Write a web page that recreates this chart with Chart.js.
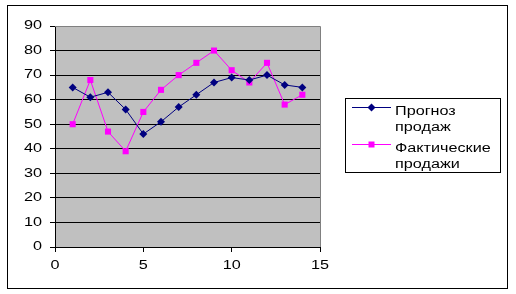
<!DOCTYPE html>
<html>
<head>
<meta charset="utf-8">
<script src="https://cdn.jsdelivr.net/npm/chart.js@4"></script>
<style>
  html, body { margin: 0; padding: 0; background: #fff; }
  canvas { display: block; }
</style>
</head>
<body>
<canvas id="chart" width="516" height="294"></canvas>
<script>
// data
const periods = [1, 2, 3, 4, 5, 6, 7, 8, 9, 10, 11, 12, 13, 14]
const forecast = [65, 61, 63, 56, 46, 51, 57, 62, 67, 69, 68, 70, 66, 65]
const actual = [50, 68, 47, 39, 55, 64, 70, 75, 80, 72, 67, 75, 58, 62]
const forecastLabel = ['Прогноз', 'продаж']
const actualLabel = ['Фактические', 'продажи']
const xTicks = [0, 5, 10, 15]
const yTicks = [0, 10, 20, 30, 40, 50, 60, 70, 80, 90]

// the original text is drawn wide, stretch every fillText a bit
const STRETCH = 1.35
const canvas = document.getElementById('chart')
const ctx = canvas.getContext('2d')
const rawFillText = ctx.fillText.bind(ctx)
ctx.fillText = function(text, x, y, maxWidth) {
  this.save()
  this.translate(x, y)
  this.scale(STRETCH, 1)
  rawFillText(text, 0, 0)
  this.restore()
}

const toPoints = (values) => values.map((y, i) => ({x: periods[i], y}))

const frame = {
  id: 'frame',
  beforeDraw(chart) {
    const c = chart.ctx
    const a = chart.chartArea
    c.save()
    c.fillStyle = '#fff'
    c.fillRect(0, 0, chart.width, chart.height)
    c.fillStyle = '#c0c0c0'
    c.fillRect(a.left, a.top, a.right - a.left, a.bottom - a.top)
    c.strokeStyle = '#000'
    c.lineWidth = 1
    c.strokeRect(7.5, 5.5, 500, 283)
    c.restore()
  },
  beforeDatasetsDraw(chart) {
    const c = chart.ctx
    const a = chart.chartArea
    c.save()
    c.strokeStyle = '#808080'
    c.lineWidth = 1
    c.beginPath()
    c.moveTo(a.left, Math.round(a.top) + 0.5)
    c.lineTo(Math.round(a.right) + 0.5, Math.round(a.top) + 0.5)
    c.lineTo(Math.round(a.right) + 0.5, a.bottom)
    c.stroke()
    c.restore()
  }
}

const sideLegend = {
  id: 'sideLegend',
  afterDraw(chart) {
    const c = chart.ctx
    c.save()
    c.strokeStyle = '#000'
    c.lineWidth = 1
    c.strokeRect(345.5, 98.5, 155, 74)
    c.font = '12px "Liberation Sans", Arial, sans-serif'
    c.fillStyle = '#000'
    c.textAlign = 'left'
    c.textBaseline = 'alphabetic'
    chart.data.datasets.forEach((ds, i) => {
      const base = 115 + i * 36.7
      const sy = Math.round(base - 8) + 0.5
      c.strokeStyle = ds.borderColor
      c.beginPath()
      c.moveTo(352, sy)
      c.lineTo(391, sy)
      c.stroke()
      c.fillStyle = ds.backgroundColor
      c.beginPath()
      if (ds.pointStyle === 'rectRot') {
        c.moveTo(371.5, sy - 4)
        c.lineTo(375.5, sy)
        c.lineTo(371.5, sy + 4)
        c.lineTo(367.5, sy)
        c.closePath()
      } else {
        c.rect(368.5, sy - 3, 6, 6)
      }
      c.fill()
      c.fillStyle = '#000'
      ds.label.forEach((line, j) => c.fillText(line, 395, base + j * 16))
    })
    c.restore()
  }
}

Chart.defaults.font.family = '"Liberation Sans", Arial, sans-serif'
Chart.defaults.font.size = 12
Chart.defaults.color = '#000'

new Chart(ctx, {
  type: 'scatter',
  data: {
    datasets: [
      {
        label: forecastLabel,
        data: toPoints(forecast),
        showLine: true,
        borderColor: '#000080',
        backgroundColor: '#000080',
        borderWidth: 1,
        pointStyle: 'rectRot',
        pointRadius: 4,
        pointHoverRadius: 4,
        pointBorderWidth: 0
      },
      {
        label: actualLabel,
        data: toPoints(actual),
        showLine: true,
        borderColor: '#ff00ff',
        backgroundColor: '#ff00ff',
        borderWidth: 1,
        pointStyle: 'rect',
        pointRadius: 4.3,
        pointHoverRadius: 4.3,
        pointBorderWidth: 0
      }
    ]
  },
  options: {
    responsive: false,
    animation: false,
    devicePixelRatio: 1,
    layout: {padding: {top: 26, right: 196, bottom: 0, left: 0}},
    plugins: {legend: {display: false}, tooltip: {enabled: false}},
    scales: {
      x: {
        type: 'linear',
        min: xTicks[0],
        max: xTicks[xTicks.length - 1],
        afterBuildTicks: (scale) => { scale.ticks = xTicks.map((v) => ({value: v})) },
        afterFit: (scale) => { scale.height = 47 },
        grid: {drawOnChartArea: false, drawTicks: true, tickLength: 5, color: '#000'},
        border: {color: '#000'},
        ticks: {padding: 6, maxRotation: 0}
      },
      y: {
        min: yTicks[0],
        max: yTicks[yTicks.length - 1],
        afterBuildTicks: (scale) => { scale.ticks = yTicks.map((v) => ({value: v})) },
        afterFit: (scale) => { scale.width = 55 },
        grid: {
          color: (c) => c.tick && c.tick.value === yTicks[yTicks.length - 1] ? 'rgba(0,0,0,0)' : '#000',
          tickColor: '#000',
          tickLength: 5
        },
        border: {color: '#000'},
        ticks: {padding: 8}
      }
    }
  },
  plugins: [frame, sideLegend]
})
</script>
</body>
</html>
